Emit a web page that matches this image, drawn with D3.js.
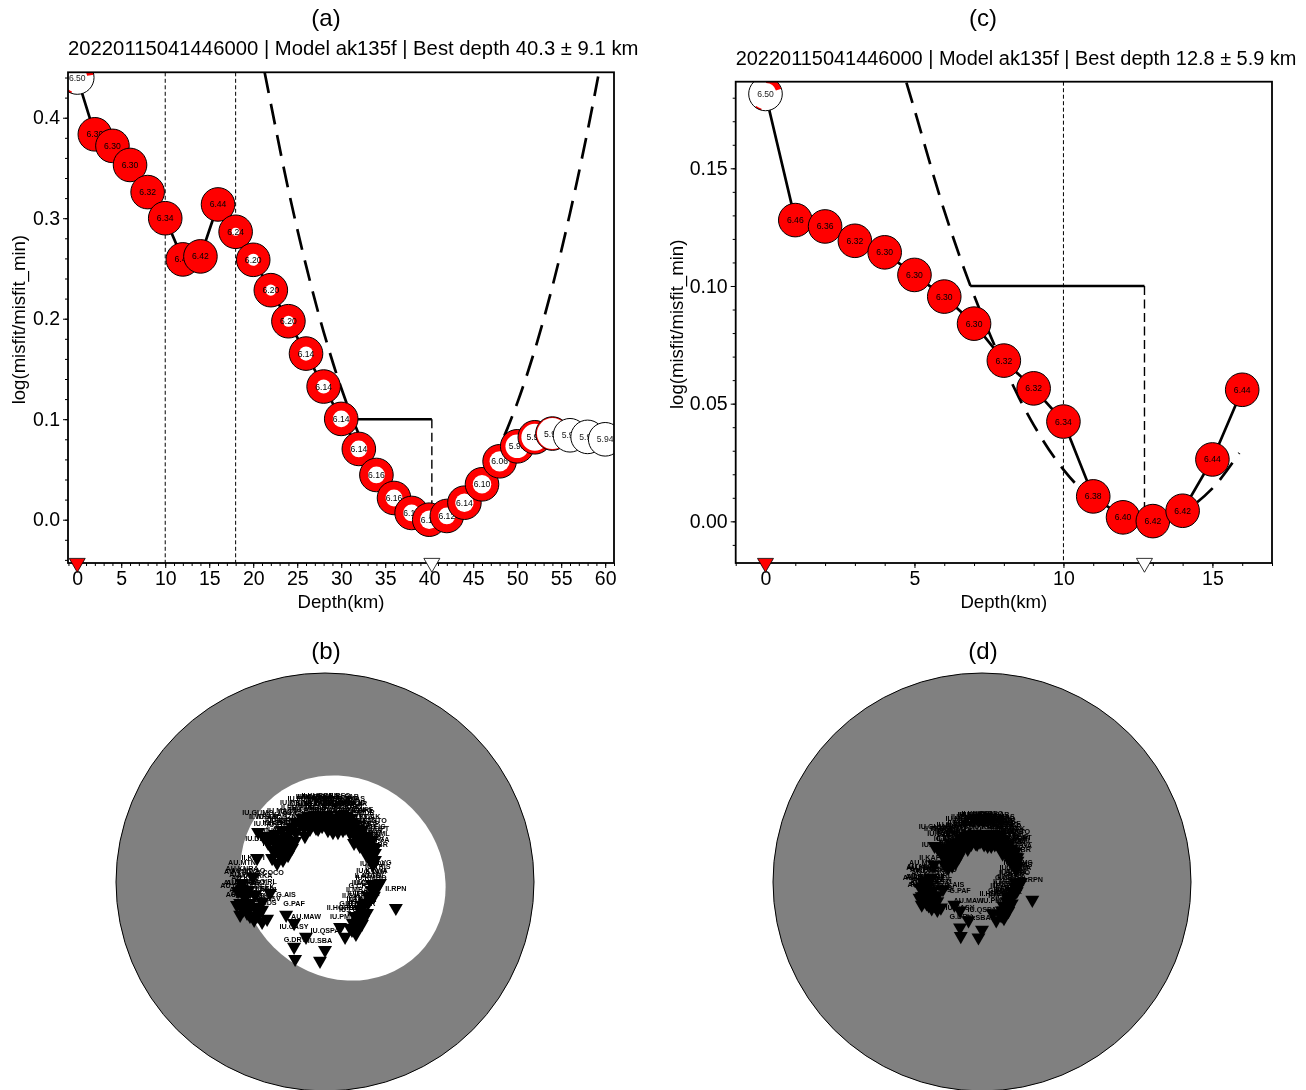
<!DOCTYPE html>
<html>
<head>
<meta charset="utf-8">
<title>Depth search</title>
<script src="https://cdnjs.cloudflare.com/ajax/libs/d3/7.8.5/d3.min.js"></script>
<style>
  html, body { margin: 0; padding: 0; background: #fff; }
  svg { display: block; will-change: transform; }
  text { font-family: "Liberation Sans", Arial, sans-serif; }
</style>
</head>
<body>
<script>
// panel (a): depth search, 0-60 km
const depthsA = [0, 2, 4, 6, 8, 10, 12, 14, 16, 18, 20, 22, 24, 26, 28, 30, 32, 34, 36, 38, 40, 42, 44, 46, 48, 50, 52, 54, 56, 58, 60];
const misfitA = [0.44, 0.3835, 0.372, 0.353, 0.326, 0.300, 0.259, 0.262, 0.3137, 0.2865, 0.2586, 0.2284, 0.1975, 0.1653, 0.1325, 0.1003, 0.0704, 0.0445, 0.0216, 0.0067, 0.0, 0.0037, 0.0169, 0.0352, 0.0581, 0.073, 0.082, 0.0857, 0.084, 0.0824, 0.08];
const magA = ["6.50", "6.30", "6.30", "6.30", "6.32", "6.34", "6.40", "6.42", "6.44", "6.24", "6.20", "6.20", "6.20", "6.14", "6.14", "6.14", "6.14", "6.16", "6.16", "6.14", "6.12", "6.12", "6.14", "6.10", "6.06", "5.98", "5.98", "5.96", "5.96", "5.94", "5.94"];
// share of the focal sphere left white
const whiteA = [1, 0, 0, 0, 0, 0, 0, 0, 0, 0.24, 0.36, 0.33, 0.33, 0.42, 0.42, 0.5, 0.5, 0.5, 0.5, 0.5, 0.55, 0.5, 0.55, 0.55, 0.6, 0.7, 0.8, 0.92, 1, 1, 1];
const curveDepthA = [21.3, 22, 24, 26, 28, 30, 32, 34, 36, 38, 40, 42, 44, 46, 48, 50, 52, 54, 56, 58, 59.2];
const curveMisfitA = [0.445, 0.414, 0.328, 0.253, 0.187, 0.131, 0.085, 0.049, 0.023, 0.0065, 0, 0.0036, 0.017, 0.040, 0.073, 0.116, 0.169, 0.232, 0.305, 0.387, 0.441];
const refDepthsA = [10, 18];

// panel (c): depth search, 0-16 km
const depthsC = [0, 1, 2, 3, 4, 5, 6, 7, 8, 9, 10, 11, 12, 13, 14, 15, 16];
const misfitC = [0.1816, 0.128, 0.1253, 0.1192, 0.1143, 0.1047, 0.0955, 0.084, 0.0683, 0.0565, 0.0424, 0.0106, 0.0017, 0.0001, 0.0045, 0.0263, 0.0559];
const magC = ["6.50", "6.46", "6.36", "6.32", "6.30", "6.30", "6.30", "6.30", "6.32", "6.32", "6.34", "6.38", "6.40", "6.42", "6.42", "6.44", "6.44"];
const whiteC = [1, 0, 0, 0, 0, 0, 0, 0, 0, 0, 0, 0, 0, 0, 0, 0, 0];
const curveDepthC = [4.73, 5, 6, 7, 8, 9, 10, 11, 12, 13, 14, 15, 15.9];
const curveMisfitC = [0.1864, 0.175, 0.132, 0.096, 0.066, 0.041, 0.022, 0.009, 0.002, 0, 0.004, 0.014, 0.029];
const refDepthsC = [10];

const xTicksA = d3.range(0, 61, 5);
const yTicksA = [0, 0.1, 0.2, 0.3, 0.4];
const xTicksC = [0, 5, 10, 15];
const yTicksC = [0, 0.05, 0.10, 0.15];

// stations, east and north in percent of the plot radius for panel (b)
const stationNames = ["IU.GUMO", "IU.MAJO", "II.ERM", "IU.PET", "IU.INCN", "IU.TATO", "IU.DAV", "IC.HIA", "IC.BJT", "IC.XAN", "IC.ENH", "IC.KMI", "IC.LSA", "IC.QIZ", "IU.CHTO", "IU.ULN", "IU.YSS", "IC.MDJ", "IU.COLA", "IU.KIEV", "II.KURK", "II.ARU", "II.OBN", "IU.KONO", "II.BORG", "II.BFO", "IU.GRFO", "IU.PAB", "IU.SFJD", "IU.HRV", "IU.WCI", "IU.ANMO", "IU.COR", "IU.TUC", "IU.RSSD", "IU.CCM", "IU.WVT", "IU.DWPF", "IU.SSPA", "II.FFC", "IU.SJG", "IU.SDDR", "IU.BBSR", "IU.TEIG", "IU.SAML", "IU.OTAV", "IU.PTGA", "IU.RCBR", "IU.LVG", "IU.SDV", "G.CRZF", "II.SHEL", "II.ABPO", "G.FDFM", "II.HOPE", "IU.PMSA", "G.TAM", "IU.KMBO", "II.MSEY", "IU.TSUM", "IU.LSZ", "G.RER", "II.SUR", "II.RPN", "IU.QSPA", "IU.SBA", "G.DRV", "IU.CASY", "AU.MAW", "G.PAF", "G.AIS", "II.COCO", "AU.GIRL", "AU.MEEK", "II.KAPI", "AU.MTN", "AU.KNRA", "AU.FITZ", "AU.CMSA", "AU.MUN", "AU.KSV", "AU.NWAO", "AU.BBOO", "AU.FORT", "AU.KMBL", "AU.STKA", "AU.LHI",
    "IU.FUNA", "IU.HNR", "IU.MIDW", "IU.KBS", "IU.KEV", "IU.ADK", "IU.POHA", "IU.XMAS", "IU.RAR", "IU.AFI", "IU.SNZO", "II.TAU", "IU.TRQA", "IU.JOHN", "IU.MBWA", "IU.PAYG", "IU.WAKE", "II.ALE", "II.PFO", "II.KDAK", "IU.ANTO", "II.AAK", "II.KIV", "II.NIL", "II.TLY",
    "IC.SSE", "IU.HKT", "IC.WMQ", "II.KWAJ", "IU.TARA", "II.WRAB",
    "IU.TRIS", "II.ASCN", "IU.KOWA", "II.MBAR", "II.SACV", "IU.FURI", "II.DGAR",
    "AU.KDU", "AU.WRKA", "AU.YNG", "AU.AS31", "AU.MCQ",
    "IU.MACI", "IU.SLBS", "IU.BILL", "IU.TIXI", "IU.YAK", "IU.MA2", "II.BRVK", "II.KZA", "II.LVZ", "IU.KIP", "IU.SDPT", "II.GAR", "IU.PTCN",
    "IC.LZH", "IC.SZN", "IC.GZH", "II.ABKT", "II.EKS2", "II.BKNI", "II.PALK",
    "IU.TOL", "II.CMLA", "IU.PAYA", "II.EFI",
    "AU.KAKA", "AU.MOO", "AU.TOO", "AU.CTA", "AU.EIDS"];
const stationE = [-32.0, -20.6, -15.8, -8.6, -20.1, -9.6, -32.5, -18.2, -27.2, -23.9, -22.0, -24.9, -18.6, -21.5, -22.9, -14.3, -13.9, -12.0, -6.2, -3.3, -4.8, -1.4, 1.4, 3.8, 4.8, 7.2, 9.6, 10.5, 12.9, 8.6, 0, -7.2, -3.3, 2.4, 5.7, 12.0, 14.3, 15.8, 9.6, 17.7, 19.1, 16.7, 20.6, 22.9, 23.9, 21.5, 23.9, 22.9, 26.3, 22.5, 17.7, 20.1, 16.7, 13.4, 7.2, 9.6, 23.9, 22.0, 19.1, 17.7, 15.8, 12.0, 14.8, 33.9, 0, -2.4, -14.3, -14.8, -9.1, -14.8, -18.6, -26.3, -30.1, -32.0, -34.4, -39.7, -39.7, -39.2, -42.1, -40.6, -27.7, -36.8, -39.2, -35.9, -37.3, -32.0, -33.5,
    -11.0, -8.1, -3.3, 0, 2.4, 6.2, 8.6, 12.0, 14.3, -5.2, -1.4, 3.3, 7.2, 11.0, -13.9, -10.0, 1.4, 6.2, 17.7, 20.1, 22.5, 15.8, 18.6, 22.0, 13.9,
    -16.7, -23.0, -15.8, -20.1, -27.2, -29.6,
    25.3, 20.6, 22.5, 16.7, 14.3, 12.9, 17.7,
    -38.2, -33.5, -41.6, -30.1, -35.9,
    -6.2, -2.4, 1.0, 4.8, 8.1, 11.5, -4.3, 14.8, 18.1, 21.0, 23.9, 16.7, 19.6,
    -24.4, -19.1, -15.8, -22.0, -17.7, -25.3, -20.1,
    23.4, 20.6, 18.1, 14.8,
    -40.6, -36.8, -39.2, -33.9, -30.1];
const stationN = [22.9, 23.9, 25.3, 27.2, 19.6, 21.0, 10.5, 19.1, 21.0, 22.0, 17.2, 14.3, 15.3, 11.5, 8.1, 18.6, 22.9, 26.8, 30.6, 24.4, 31.1, 29.6, 31.1, 22.9, 29.6, 31.1, 27.2, 30.6, 27.7, 23.9, 26.8, 24.4, 27.2, 27.7, 25.8, 22.5, 21.0, 24.4, 24.9, 17.7, 19.1, 22.5, 14.3, 15.8, 12.9, 10.5, 9.6, 7.2, -1.4, -1.9, -12.0, -15.8, -18.2, -20.6, -22.5, -27.2, -5.3, -8.6, -11.0, -15.8, -22.9, -22.9, -20.6, -13.4, -33.5, -38.7, -37.8, -32.0, -27.2, -20.6, -16.7, -6.2, -10.5, -12.9, 1.4, -1.4, -4.3, -6.7, -12.0, -16.7, -18.6, -4.8, -11.0, -11.0, -15.8, -17.2, -13.4,
    29.6, 30.6, 30.6, 29.6, 29.6, 28.7, 29.6, 29.6, 26.8, 26.8, 25.8, 26.3, 26.8, 25.8, 27.7, 24.9, 23.9, 22.9, 23.9, 21.0, 19.1, 19.1, 15.3, 12.9, 17.7,
    23.4, 19.1, 15.3, 12.9, 17.7, 21.0,
    -2.9, -7.6, -4.8, -14.3, -17.2, -23.9, -21.0,
    -8.6, -7.2, -5.3, -14.3, -17.2,
    29.6, 28.7, 28.2, 27.2, 28.2, 26.8, 24.9, 23.9, 21.0, 17.7, 15.3, 16.3, 12.4,
    18.1, 21.0, 18.1, 14.8, 11.9, 10.5, 9.6,
    -7.6, -11.0, -19.1, -25.8,
    -11.0, -13.4, -14.3, -19.1, -20.1];

const svgWidth = 1306;
const svgHeight = 1090;
const radius = 16.8;

const svg = d3.select("body").append("svg")
    .attr("width", svgWidth)
    .attr("height", svgHeight)
    .attr("viewBox", `0 0 ${svgWidth} ${svgHeight}`);

const triangle = side => d3.symbol().type(d3.symbolTriangle).size(side * side * Math.sqrt(3) / 4)();

/**
 * Draws one misfit-vs-depth panel.
 */
function misfitPanel(p) {
    let x = d3.scaleLinear().domain(p.xDomain).range([p.left, p.right]);
    let y = d3.scaleLinear().domain(p.yDomain).range([p.bottom, p.top]);
    let g = svg.append("g");

    let clipId = "clip-" + p.id;
    g.append("clipPath").attr("id", clipId)
        .append("rect")
        .attr("x", p.left).attr("y", p.top)
        .attr("width", p.right - p.left).attr("height", p.bottom - p.top);

    let plot = g.append("g").attr("clip-path", `url(#${clipId})`);

    // reference depths
    plot.selectAll("line.ref")
        .data(p.refDepths)
        .enter().append("line")
        .attr("class", "ref")
        .attr("x1", d => x(d)).attr("x2", d => x(d))
        .attr("y1", p.top).attr("y2", p.bottom)
        .attr("stroke", "#000").attr("stroke-width", 1)
        .attr("stroke-dasharray", "4,2.5");

    // parabola fit
    let curveLine = d3.line()
        .x((d, i) => x(p.curveDepth[i]))
        .y(d => y(d))
        .curve(d3.curveCatmullRom);
    plot.append("path")
        .attr("d", curveLine(p.curveMisfit))
        .attr("fill", "none")
        .attr("stroke", "#000").attr("stroke-width", 2.7)
        .attr("stroke-dasharray", "21,11");

    // uncertainty bracket
    plot.append("path")
        .attr("d", `M${x(p.best - p.err)},${y(0.1)}H${x(p.best)}`)
        .attr("fill", "none").attr("stroke", "#000").attr("stroke-width", 2.6);
    plot.append("path")
        .attr("d", `M${x(p.best)},${y(0.1)}V${y(0)}`)
        .attr("fill", "none").attr("stroke", "#000").attr("stroke-width", 1.4)
        .attr("stroke-dasharray", "9,4.5");

    // misfit line
    let misfitLine = d3.line()
        .x((d, i) => x(p.depths[i]))
        .y(d => y(d));
    plot.append("path")
        .attr("d", misfitLine(p.misfit))
        .attr("fill", "none")
        .attr("stroke", "#000").attr("stroke-width", 2.7);

    // beachballs, later ones cover earlier ones
    let balls = plot.selectAll("g.ball")
        .data(p.depths)
        .enter().append("g")
        .attr("class", "ball")
        .attr("transform", (d, i) => `translate(${x(d)},${y(p.misfit[i])})`);
    balls.append("circle")
        .attr("r", radius)
        .attr("fill", (d, i) => p.white[i] >= 1 ? "#fff" : "#f00");
    balls.filter((d, i) => p.white[i] > 0 && p.white[i] < 1)
        .append("circle")
        .attr("r", d => p.white[p.depths.indexOf(d)] * radius)
        .attr("fill", "#fff");
    balls.filter((d, i) => i === 0)
        .selectAll("path")
        .data(p.sliver)
        .enter().append("path")
        .attr("d", d3.arc())
        .attr("fill", "#f00");
    balls.append("circle")
        .attr("r", radius)
        .attr("fill", "none")
        .attr("stroke", "#000").attr("stroke-width", 1);
    balls.append("text")
        .attr("text-anchor", "middle")
        .attr("dy", "0.35em")
        .attr("font-size", 8.6)
        .attr("fill", (d, i) => p.white[i] >= 1 ? "#222" : "#000")
        .text((d, i) => p.mag[i]);

    // frame
    g.append("rect")
        .attr("x", p.left).attr("y", p.top)
        .attr("width", p.right - p.left).attr("height", p.bottom - p.top)
        .attr("fill", "none").attr("stroke", "#000").attr("stroke-width", 1.8);

    // minor ticks
    let xAxisMinor = d3.axisBottom(x).tickValues(d3.range(-1, p.xDomain[1] + 0.01, 1)).tickSize(3).tickFormat("");
    g.append("g").attr("transform", `translate(0,${p.bottom})`).call(xAxisMinor)
        .call(s => s.select(".domain").remove());
    let yAxisMinor = d3.axisLeft(y).tickValues(d3.range(p.yMinorStart, p.yDomain[1], p.yMinor)).tickSize(3).tickFormat("");
    g.append("g").attr("transform", `translate(${p.left},0)`).call(yAxisMinor)
        .call(s => s.select(".domain").remove());

    // major ticks
    let xAxis = d3.axisBottom(x).tickValues(p.xTicks).tickSize(5).tickPadding(3).tickFormat(d3.format("d"));
    g.append("g").attr("transform", `translate(0,${p.bottom})`).call(xAxis)
        .call(s => s.select(".domain").remove())
        .call(s => s.selectAll("text").attr("font-size", 19.5))
        .attr("font-family", null);
    let yAxis = d3.axisLeft(y).tickValues(p.yTicks).tickSize(5).tickPadding(3).tickFormat(d3.format(p.yFormat));
    g.append("g").attr("transform", `translate(${p.left},0)`).call(yAxis)
        .call(s => s.select(".domain").remove())
        .call(s => s.selectAll("text").attr("font-size", 19.5))
        .attr("font-family", null);

    // source depth and best depth markers
    g.append("path")
        .attr("d", triangle(16))
        .attr("transform", `translate(${x(0)},${p.bottom}) rotate(180)`)
        .attr("fill", "#f00").attr("stroke", "#000").attr("stroke-width", 0.8);
    g.append("path")
        .attr("d", triangle(16))
        .attr("transform", `translate(${x(p.best)},${p.bottom}) rotate(180)`)
        .attr("fill", "#fff").attr("stroke", "#000").attr("stroke-width", 0.8);

    // labels
    g.append("text")
        .attr("x", (p.left + p.right) / 2).attr("y", 608)
        .attr("text-anchor", "middle").attr("font-size", 18.6)
        .text("Depth(km)");
    g.append("text")
        .attr("transform", `translate(${p.yLabelX},${(p.top + p.bottom) / 2 + 2}) rotate(-90)`)
        .attr("text-anchor", "middle").attr("font-size", 18.6)
        .text("log(misfit/misfit_min)");
    g.append("text")
        .attr("x", p.left).attr("y", p.titleY)
        .attr("font-size", p.titleSize)
        .text(p.title);
    g.append("text")
        .attr("x", p.tagX).attr("y", 26)
        .attr("text-anchor", "middle").attr("font-size", 24)
        .text(p.tag);
}

/**
 * Draws one station coverage panel.
 */
function stationPanel(p) {
    let cx = p.cx, cy = 882, rOuter = 209;
    let g = svg.append("g");
    g.append("circle")
        .attr("cx", cx).attr("cy", cy).attr("r", rOuter)
        .attr("fill", "#808080").attr("stroke", "#000").attr("stroke-width", 1);
    if (p.hole) {
        g.append("ellipse")
            .attr("rx", 107).attr("ry", 98)
            .attr("transform", `translate(${cx + 18},${cy - 4}) rotate(45)`)
            .attr("fill", "#fff");
    }

    let e = d3.scaleLinear().domain([-100, 100]).range([cx - rOuter * p.shrink, cx + rOuter * p.shrink]);
    let n = d3.scaleLinear().domain([-100, 100]).range([cy + rOuter * p.shrink, cy - rOuter * p.shrink]);

    g.selectAll("path.station")
        .data(stationNames)
        .enter().append("path")
        .attr("class", "station")
        .attr("d", triangle(14))
        .attr("transform", (d, i) => `translate(${e(stationE[i])},${n(stationN[i]) - 2}) rotate(180)`)
        .attr("fill", "#000");
    g.selectAll("text.station")
        .data(stationNames)
        .enter().append("text")
        .attr("class", "station")
        .attr("x", (d, i) => e(stationE[i]))
        .attr("y", (d, i) => n(stationN[i]) - 19.5)
        .attr("text-anchor", "middle")
        .attr("font-size", 7.2)
        .attr("font-weight", "bold")
        .text(d => d);

    g.append("text")
        .attr("x", cx + 1).attr("y", 659)
        .attr("text-anchor", "middle").attr("font-size", 24)
        .text(p.tag);
}

misfitPanel({
    id: "a", tag: "(a)", tagX: 326,
    title: "20220115041446000 | Model ak135f | Best depth 40.3 \u00b1 9.1 km", titleY: 55, titleSize: 20.3,
    left: 68, right: 614, top: 72.3, bottom: 563,
    xDomain: [-1.05, 61], yDomain: [-0.0431, 0.4452],
    xTicks: xTicksA, yTicks: yTicksA, yFormat: ".1f", yMinor: 0.02, yMinorStart: -0.04, yLabelX: 25,
    depths: depthsA, misfit: misfitA, mag: magA, white: whiteA,
    curveDepth: curveDepthA, curveMisfit: curveMisfitA, refDepths: refDepthsA,
    best: 40.3, err: 9.1,
    sliver: [
        { innerRadius: 10, outerRadius: 16.8, startAngle: 0.6, endAngle: 1.4 },
        { innerRadius: 15, outerRadius: 16.8, startAngle: 3.5, endAngle: 4.0 }
    ]
});

misfitPanel({
    id: "c", tag: "(c)", tagX: 983,
    title: "20220115041446000 | Model ak135f | Best depth 12.8 \u00b1 5.9 km", titleY: 65, titleSize: 19.95,
    left: 735.7, right: 1272, top: 81.7, bottom: 563,
    xDomain: [-1, 17], yDomain: [-0.0177, 0.1868],
    xTicks: xTicksC, yTicks: yTicksC, yFormat: ".2f", yMinor: 0.01, yMinorStart: -0.01, yLabelX: 683,
    depths: depthsC, misfit: misfitC, mag: magC, white: whiteC,
    curveDepth: curveDepthC, curveMisfit: curveMisfitC, refDepths: refDepthsC,
    best: 12.72, err: 5.85,
    sliver: [
        { innerRadius: 11, outerRadius: 16.8, startAngle: 0.05, endAngle: 1.25 },
        { innerRadius: 15.3, outerRadius: 16.8, startAngle: 3.4, endAngle: 3.8 }
    ]
});

stationPanel({ tag: "(b)", cx: 325, shrink: 1, hole: true });
stationPanel({ tag: "(d)", cx: 982, shrink: 0.71, hole: false });
</script>
</body>
</html>
